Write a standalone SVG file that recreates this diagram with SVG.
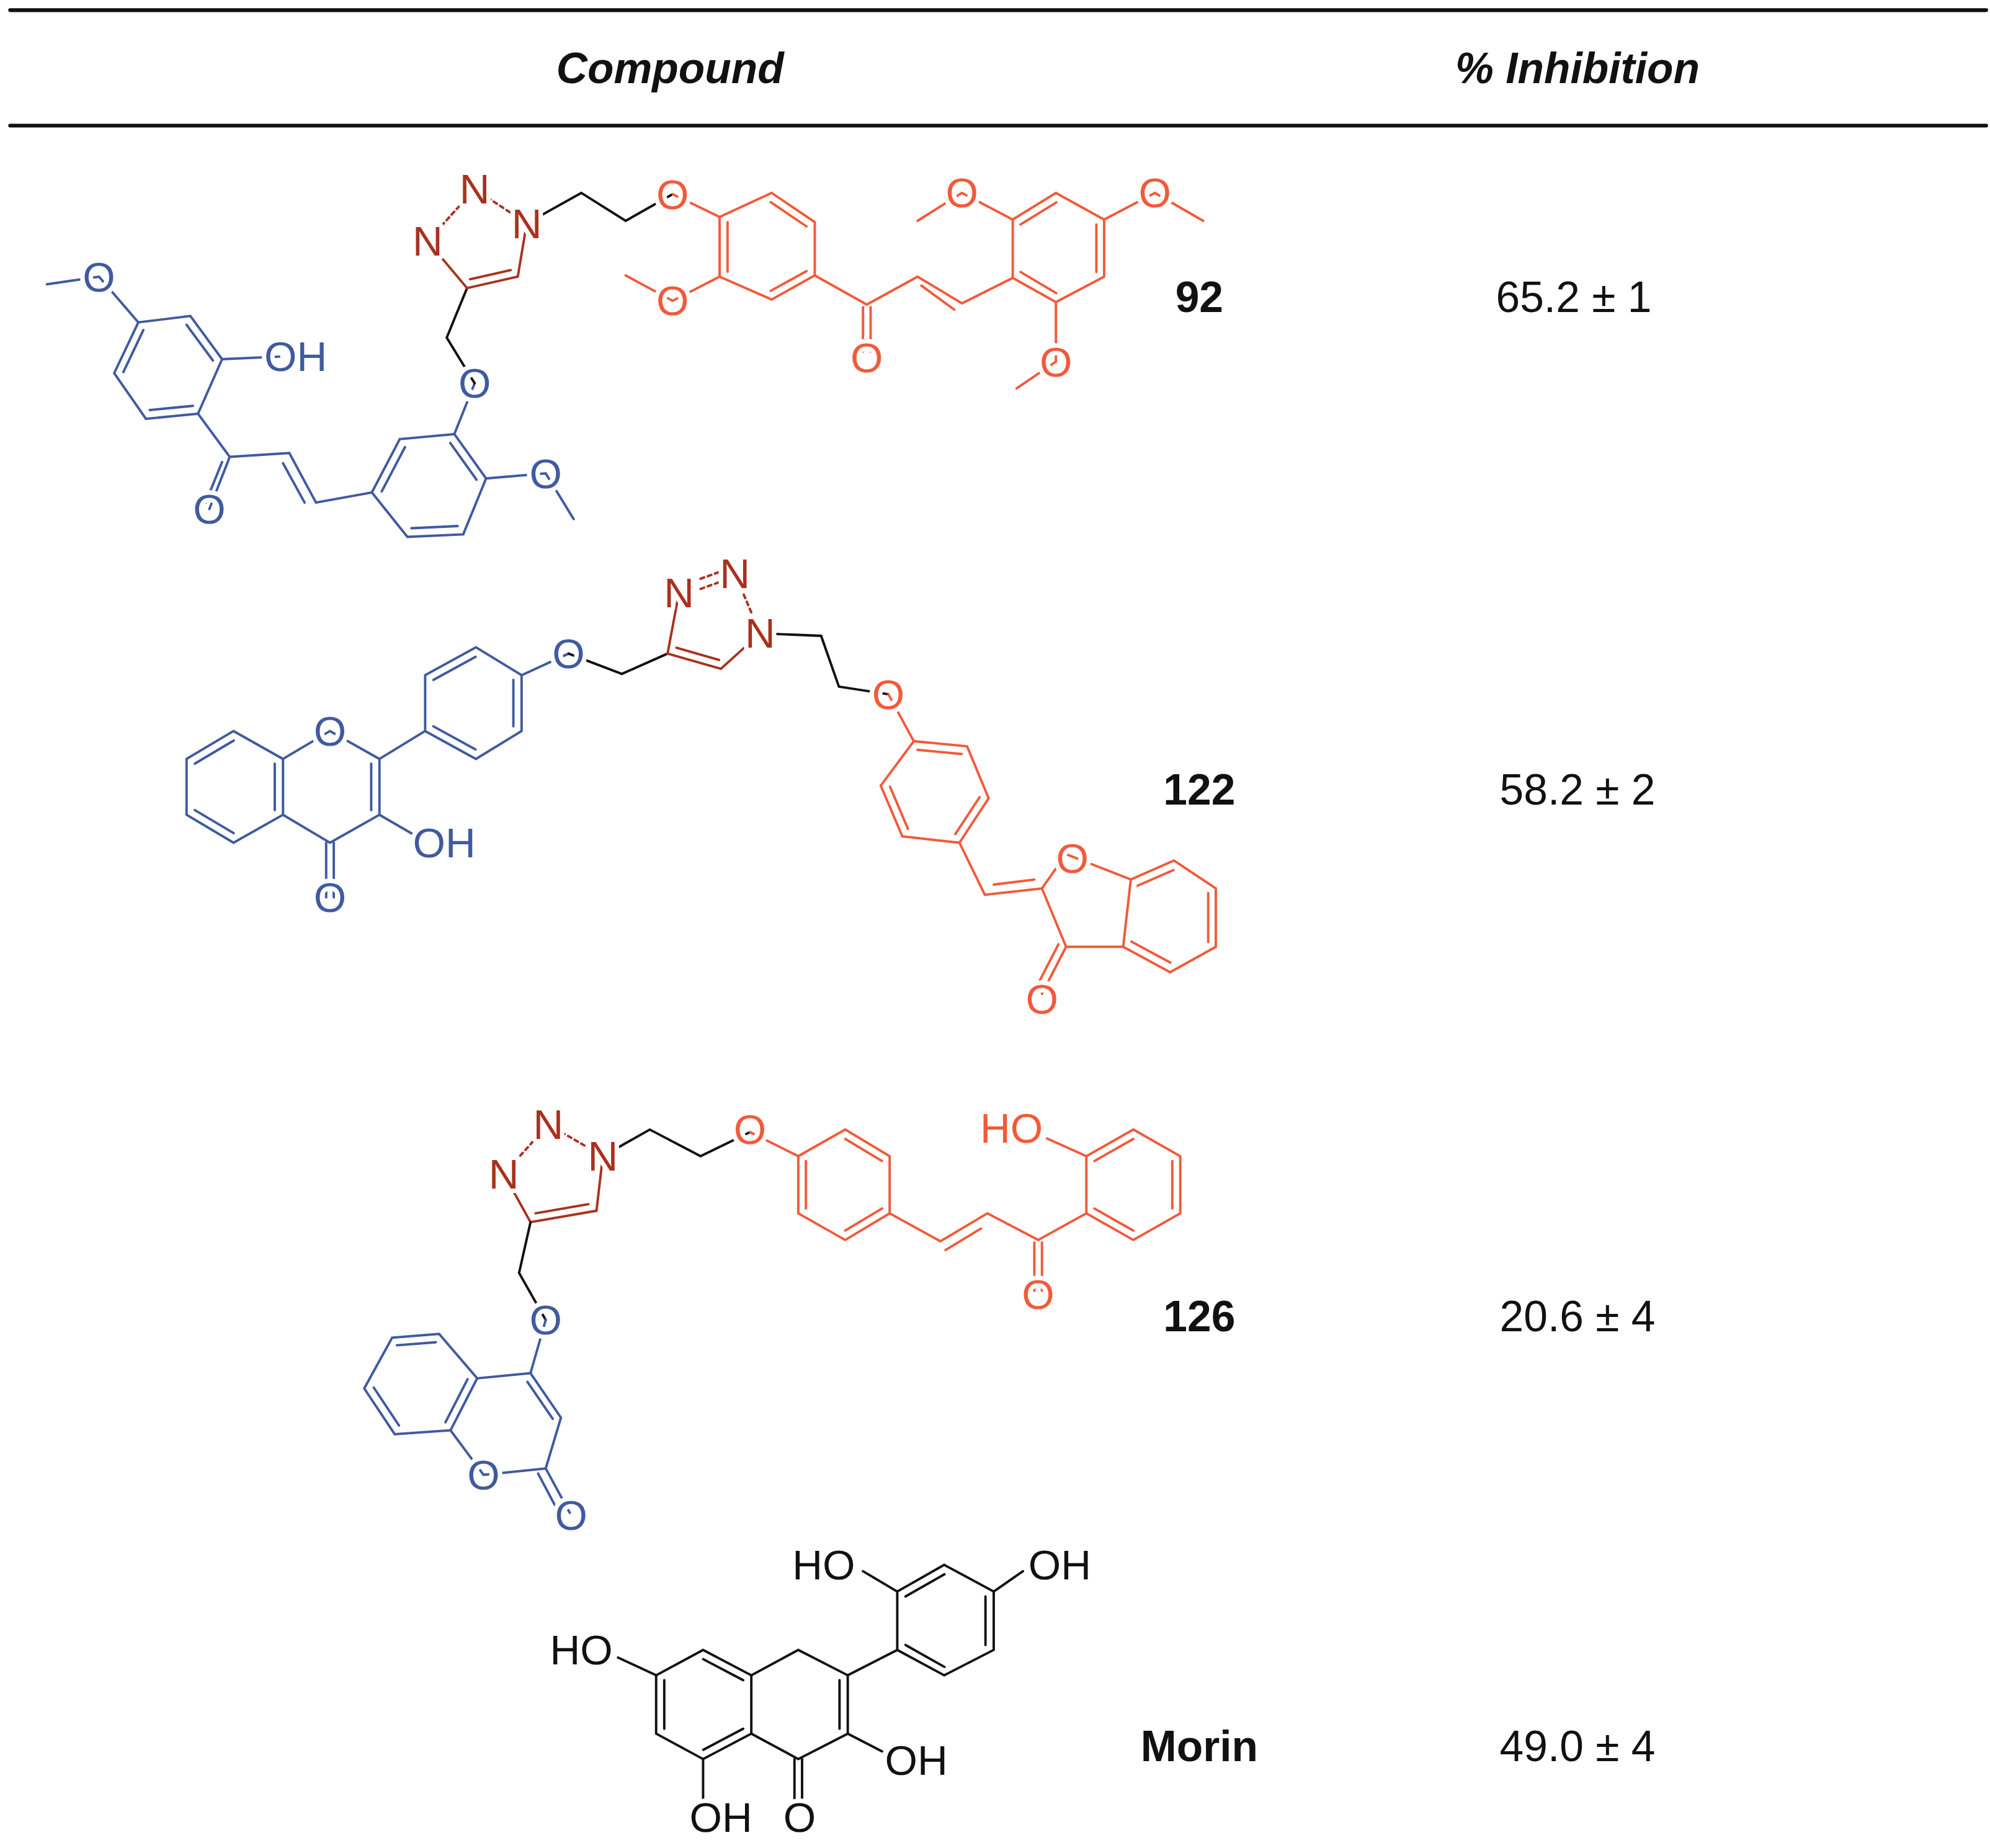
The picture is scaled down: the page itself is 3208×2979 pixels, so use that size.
<svg xmlns="http://www.w3.org/2000/svg" width="3208" height="2979" viewBox="0 0 3208 2979">
<style>
line,polyline{stroke-width:1.9;fill:none;stroke-linecap:round}
.b line,.b polyline{stroke:#3f5a9f}
.o line,.o polyline{stroke:#f15a3a}
.r line,.r polyline{stroke:#a8321f}
.k line,.k polyline{stroke:#111}
.dash{stroke-dasharray:3 3}
.at{font-family:"Liberation Sans",Arial,sans-serif;font-size:33px;text-anchor:middle;dominant-baseline:central;stroke:#fff;stroke-width:7;paint-order:stroke;stroke-linejoin:round}
.at.b{fill:#3f5a9f}.at.o{fill:#f15a3a}.at.r{fill:#a8321f}.at.k{fill:#111}
.lab{font-family:"Liberation Sans",Arial,sans-serif;font-size:34px;font-weight:bold;text-anchor:middle;dominant-baseline:central;fill:#111}
.val{font-family:"Liberation Sans",Arial,sans-serif;font-size:34px;text-anchor:middle;dominant-baseline:central;fill:#111}
.hd{font-family:"Liberation Sans",Arial,sans-serif;font-size:34px;font-weight:bold;font-style:italic;text-anchor:middle;dominant-baseline:central;fill:#111}
</style>
<rect width="3208" height="2979" fill="#fff"/>
<g transform="scale(2.0459)">
<g id="header">
<line x1="8" y1="8" x2="1565" y2="8" style="stroke:#111;stroke-width:3"/>
<line x1="8" y1="99" x2="1565" y2="99" style="stroke:#111;stroke-width:3"/>
<text class="hd" x="528" y="54">Compound</text>
<text class="hd" x="1243" y="54">% Inhibition</text>
</g>

<g id="c92">
<g class="b">
<polyline points="109,254 150,249 175,283 156,326 115,330 90,294 109,254"/>
<line x1="97.2" y1="293.2" x2="113" y2="260"/>
<line x1="147" y1="255.9" x2="167.8" y2="284.1"/>
<line x1="152" y1="319.8" x2="118" y2="323.1"/>
<polyline points="37,224 78,218 109,254"/>
<line x1="175" y1="283" x2="220" y2="281"/>
<polyline points="156,326 181,360 228,357 249,396 293,388"/>
<line x1="181" y1="360" x2="165" y2="401"/>
<line x1="175" y1="364" x2="162" y2="396"/>
<line x1="223" y1="365" x2="240" y2="396"/>
<polyline points="315,346 358,342 383,377 365,421 321,423 293,388 315,346"/>
<line x1="300.8" y1="387.2" x2="319.1" y2="352.3"/>
<line x1="354.8" y1="349" x2="375.5" y2="378"/>
<line x1="360.6" y1="414.5" x2="324.1" y2="416.2"/>
<line x1="358" y1="342" x2="374" y2="302"/>
<polyline points="383,377 430,373 452,409"/>
</g>
<g class="k"><polyline points="374,302 352,266 368,227"/><polyline points="415,176 458,152 493,174 530,153"/></g>
<g class="r">
<polyline points="337,190 368,227 408,218 415,176"/>
<line x1="370.4" y1="220" x2="402.4" y2="212.8"/>
<line class="dash" x1="374" y1="149" x2="415" y2="176"/>
<line class="dash" x1="374" y1="149" x2="337" y2="190"/>
</g>
<g class="o">
<line x1="530" y1="153" x2="567" y2="171"/>
<polyline points="567,171 608,152 642,175 642,217 608,236 567,218 567,171"/>
<line x1="573.3" y1="214.1" x2="573.3" y2="175.1"/>
<line x1="607.3" y1="159.3" x2="635.5" y2="178.4"/>
<line x1="635.5" y1="213.6" x2="607.3" y2="229.2"/>
<polyline points="567,218 530,237 493,217"/>
<polyline points="642,217 683,240 723,218 758,239 798,219"/>
<line x1="680" y1="242" x2="680" y2="277"/>
<line x1="686" y1="242" x2="686" y2="277"/>
<line x1="726" y1="225" x2="752" y2="244"/>
<polyline points="798,219 798,173 832,152 870,173 870,218 832,238 798,219"/>
<line x1="804.1" y1="176.9" x2="832.3" y2="159.5"/>
<line x1="863.9" y1="176.9" x2="863.9" y2="214.3"/>
<line x1="832.3" y1="231" x2="804.1" y2="214.3"/>
<polyline points="798,173 758,152 723,174"/>
<polyline points="870,173 910,152 948,174"/>
<polyline points="832,238 832,285 801,306"/>
</g>
<text class="at b" x="78" y="218">O</text>
<text class="at b" x="233" y="281">OH</text>
<text class="at b" x="165" y="401">O</text>
<text class="at b" x="374" y="302">O</text>
<text class="at b" x="430" y="373">O</text>
<text class="at r" x="415" y="176">N</text>
<text class="at r" x="374" y="149">N</text>
<text class="at r" x="337" y="190">N</text>
<text class="at o" x="530" y="153">O</text>
<text class="at o" x="530" y="237">O</text>
<text class="at o" x="683" y="282">O</text>
<text class="at o" x="758" y="152">O</text>
<text class="at o" x="910" y="152">O</text>
<text class="at o" x="832" y="285">O</text>
<text class="lab" x="945" y="234">92</text>
<text class="val" x="1240" y="234">65.2 ± 1</text>
</g>

<g id="c122">
<g class="b">
<polyline points="184,576 223,598 223,642 184,664 147,642 147,598 184,576"/>
<line x1="153.5" y1="601.7" x2="184.2" y2="583.5"/>
<line x1="216.5" y1="601.7" x2="216.5" y2="638.3"/>
<line x1="184.2" y1="656.5" x2="153.5" y2="638.3"/>
<polyline points="223,598 260,576 299,598 299,642 260,664 223,642"/>
<line x1="292.5" y1="601.7" x2="292.5" y2="638.3"/>
<line x1="257" y1="664" x2="257" y2="707"/>
<line x1="263" y1="664" x2="263" y2="707"/>
<line x1="299" y1="642" x2="330" y2="660"/>
<line x1="299" y1="598" x2="335" y2="576"/>
<polyline points="335,576 335,532 375,510 411,532 411,576 375,598 335,576"/>
<line x1="341.5" y1="535.7" x2="374.7" y2="517.5"/>
<line x1="404.5" y1="535.7" x2="404.5" y2="572.3"/>
<line x1="374.7" y1="590.5" x2="341.5" y2="572.3"/>
<line x1="411" y1="532" x2="448" y2="515"/>
</g>
<g class="k"><polyline points="448,515 490,531 526,515"/><polyline points="599,499 647,501 661,541 700,547"/></g>
<g class="r">
<polyline points="535,467 526,515 568,527 599,499"/>
<line x1="533" y1="510.4" x2="566.6" y2="520"/>
<line class="dash" x1="579" y1="452" x2="599" y2="499"/>
<line class="dash" x1="552" y1="456" x2="566" y2="451"/>
<line class="dash" x1="552" y1="464" x2="566" y2="459"/>
</g>
<g class="o">
<line x1="700" y1="547" x2="720" y2="584"/>
<polyline points="720,584 762,588 779,629 756,664 711,659 694,619 720,584"/>
<line x1="722.9" y1="590.8" x2="757.8" y2="594.1"/>
<line x1="771.9" y1="628.1" x2="752.7" y2="657.2"/>
<line x1="715.4" y1="653" x2="701.3" y2="619.9"/>
<polyline points="756,664 776,705 821,700 840,673 891,693"/>
<line x1="783" y1="697" x2="815" y2="693"/>
<polyline points="821,700 840,746 885,746"/>
<polyline points="891,693 925,678 958,700 958,746 922,766 885,746 891,693"/>
<line x1="896.4" y1="697.9" x2="924.7" y2="685.5"/>
<line x1="952" y1="703.7" x2="952" y2="742.3"/>
<line x1="922.2" y1="758.5" x2="891.5" y2="741.9"/>
<line x1="840" y1="746" x2="821" y2="783"/>
<line x1="834" y1="744" x2="816" y2="779"/>
</g>
<text class="at b" x="260" y="576">O</text>
<text class="at b" x="260" y="707">O</text>
<text class="at b" x="350" y="664">OH</text>
<text class="at b" x="448" y="515">O</text>
<text class="at r" x="599" y="499">N</text>
<text class="at r" x="579" y="452">N</text>
<text class="at r" x="535" y="467">N</text>
<text class="at o" x="700" y="547">O</text>
<text class="at o" x="845" y="676">O</text>
<text class="at o" x="821" y="787">O</text>
<text class="lab" x="945" y="622">122</text>
<text class="val" x="1243" y="622">58.2 ± 2</text>
</g>

<g id="c126">
<g class="r">
<polyline points="397,925 418,963 470,954 475,911"/>
<line x1="422" y1="956" x2="463.6" y2="948.8"/>
<line class="dash" x1="432" y1="886" x2="475" y2="911"/>
<line class="dash" x1="432" y1="886" x2="397" y2="925"/>
</g>
<g class="k"><polyline points="418,963 409,1003 430,1040"/><polyline points="475,911 512,890 552,911 591,892"/></g>
<g class="o">
<line x1="591" y1="892" x2="629" y2="911"/>
<polyline points="629,911 666,890 701,911 701,956 666,977 629,956 629,911"/>
<line x1="666" y1="897.4" x2="695" y2="914.8"/>
<line x1="695" y1="952.2" x2="666" y2="969.6"/>
<line x1="635" y1="952.2" x2="635" y2="914.8"/>
<polyline points="701,956 741,978 778,956 818,977 856,956"/>
<line x1="745" y1="985" x2="773" y2="968"/>
<line x1="815" y1="979" x2="815" y2="1017"/>
<line x1="821" y1="979" x2="821" y2="1017"/>
<polyline points="856,956 856,911 893,890 930,911 930,956 893,977 856,956"/>
<line x1="862.3" y1="914.8" x2="893" y2="897.4"/>
<line x1="923.7" y1="914.8" x2="923.7" y2="952.2"/>
<line x1="893" y1="969.6" x2="862.3" y2="952.2"/>
<line x1="856" y1="911" x2="825" y2="897"/>
</g>
<g class="b">
<line x1="430" y1="1040" x2="418" y2="1082"/>
<polyline points="376,1086 418,1082 442,1117 430,1157 381,1162 355,1127"/>
<line x1="415.6" y1="1088.8" x2="435.5" y2="1117.9"/>
<line x1="430" y1="1157" x2="449" y2="1192"/>
<line x1="424" y1="1161" x2="442" y2="1195"/>
<polyline points="376,1086 346,1051 309,1054 287,1094 311,1130 355,1127 376,1086"/>
<line x1="343.4" y1="1057.6" x2="312.7" y2="1060"/>
<line x1="294.5" y1="1093.3" x2="314.4" y2="1123.2"/>
<line x1="351" y1="1120.7" x2="368.4" y2="1086.7"/>
</g>
<text class="at r" x="475" y="911">N</text>
<text class="at r" x="432" y="886">N</text>
<text class="at r" x="397" y="925">N</text>
<text class="at b" x="430" y="1040">O</text>
<text class="at b" x="381" y="1162">O</text>
<text class="at b" x="450" y="1194">O</text>
<text class="at o" x="591" y="890">O</text>
<text class="at o" x="797" y="889">HO</text>
<text class="at o" x="818" y="1020">O</text>
<text class="lab" x="945" y="1037">126</text>
<text class="val" x="1243" y="1037">20.6 ± 4</text>
</g>

<g id="morin">
<g class="k">
<polyline points="554,1300 592,1320 592,1366 554,1386 517,1366 517,1320 554,1300"/>
<line x1="554.1" y1="1307.3" x2="585.6" y2="1323.9"/>
<line x1="523.4" y1="1323.9" x2="523.4" y2="1362.1"/>
<line x1="585.6" y1="1362.1" x2="554.1" y2="1378.7"/>
<polyline points="592,1320 629,1300 668,1320 668,1366 629,1386 592,1366"/>
<line x1="661.5" y1="1323.9" x2="661.5" y2="1362.1"/>
<line x1="626" y1="1386" x2="626" y2="1425"/>
<line x1="632" y1="1386" x2="632" y2="1425"/>
<line x1="554" y1="1386" x2="554" y2="1420"/>
<line x1="517" y1="1320" x2="487" y2="1306"/>
<line x1="668" y1="1366" x2="695" y2="1380"/>
<line x1="668" y1="1320" x2="707" y2="1300"/>
<polyline points="707,1300 707,1254 744,1233 783,1254 783,1300 744,1320 707,1300"/>
<line x1="713.5" y1="1257.9" x2="744.2" y2="1240.4"/>
<line x1="776.5" y1="1257.9" x2="776.5" y2="1296.1"/>
<line x1="744.2" y1="1313.4" x2="713.5" y2="1296.1"/>
<line x1="707" y1="1254" x2="680" y2="1238"/>
<line x1="783" y1="1254" x2="806" y2="1238"/>
</g>
<text class="at k" x="458" y="1300">HO</text>
<text class="at k" x="568" y="1432">OH</text>
<text class="at k" x="630" y="1432">O</text>
<text class="at k" x="722" y="1387">OH</text>
<text class="at k" x="649" y="1233">HO</text>
<text class="at k" x="835" y="1233">OH</text>
<text class="lab" x="945" y="1376">Morin</text>
<text class="val" x="1243" y="1376">49.0 ± 4</text>
</g>
</g>
</svg>
